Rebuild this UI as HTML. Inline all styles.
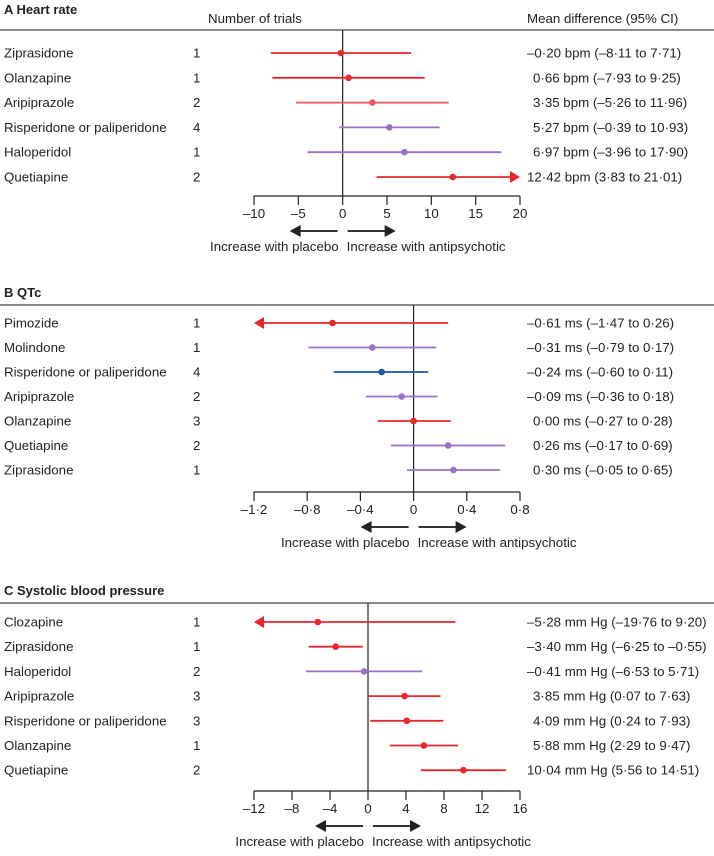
<!DOCTYPE html>
<html><head><meta charset="utf-8">
<style>
html,body{margin:0;padding:0;background:#fff;}
svg{display:block;font-family:"Liberation Sans",sans-serif;}
text{font-size:13.3px;fill:#222;}
.ttl{font-size:13px;font-weight:bold;}
</style></head>
<body>
<svg id="chart" width="714" height="856" viewBox="0 0 714 856" xmlns="http://www.w3.org/2000/svg"></svg>
<script>
// Panel A: Heart rate
const aNames = ["Ziprasidone","Olanzapine","Aripiprazole","Risperidone or paliperidone","Haloperidol","Quetiapine"];
const aTrials = [1,1,2,4,1,2];
const aMean = [-0.20,0.66,3.35,5.27,6.97,12.42];
const aLow = [-8.11,-7.93,-5.26,-0.39,-3.96,3.83];
const aHigh = [7.71,9.25,11.96,10.93,17.90,21.01];
const aColor = ["#e8282c","#e8282c","#f05a5a","#9b72c4","#9b72c4","#e8282c"];
const aLabels = ["–0·20 bpm (–8·11 to 7·71)","0·66 bpm (–7·93 to 9·25)","3·35 bpm (–5·26 to 11·96)","5·27 bpm (–0·39 to 10·93)","6·97 bpm (–3·96 to 17·90)","12·42 bpm (3·83 to 21·01)"];
const aTicks = [-10,-5,0,5,10,15,20];
const aTickLabels = ["–10","–5","0","5","10","15","20"];

// Panel B: QTc
const bNames = ["Pimozide","Molindone","Risperidone or paliperidone","Aripiprazole","Olanzapine","Quetiapine","Ziprasidone"];
const bTrials = [1,1,4,2,3,2,1];
const bMean = [-0.61,-0.31,-0.24,-0.09,0.00,0.26,0.30];
const bLow = [-1.47,-0.79,-0.60,-0.36,-0.27,-0.17,-0.05];
const bHigh = [0.26,0.17,0.11,0.18,0.28,0.69,0.65];
const bColor = ["#e8282c","#9b72c4","#1b56a3","#9b72c4","#e8282c","#9b72c4","#9b72c4"];
const bLabels = ["–0·61 ms (–1·47 to 0·26)","–0·31 ms (–0·79 to 0·17)","–0·24 ms (–0·60 to 0·11)","–0·09 ms (–0·36 to 0·18)","0·00 ms (–0·27 to 0·28)","0·26 ms (–0·17 to 0·69)","0·30 ms (–0·05 to 0·65)"];
const bTicks = [-1.2,-0.8,-0.4,0,0.4,0.8];
const bTickLabels = ["–1·2","–0·8","–0·4","0","0·4","0·8"];

// Panel C: Systolic blood pressure
const cNames = ["Clozapine","Ziprasidone","Haloperidol","Aripiprazole","Risperidone or paliperidone","Olanzapine","Quetiapine"];
const cTrials = [1,1,2,3,3,1,2];
const cMean = [-5.28,-3.40,-0.41,3.85,4.09,5.88,10.04];
const cLow = [-19.76,-6.25,-6.53,0.07,0.24,2.29,5.56];
const cHigh = [9.20,-0.55,5.71,7.63,7.93,9.47,14.51];
const cColor = ["#e8282c","#e8282c","#9b72c4","#e8282c","#e8282c","#e8282c","#e8282c"];
const cLabels = ["–5·28 mm Hg (–19·76 to 9·20)","–3·40 mm Hg (–6·25 to –0·55)","–0·41 mm Hg (–6·53 to 5·71)","3·85 mm Hg (0·07 to 7·63)","4·09 mm Hg (0·24 to 7·93)","5·88 mm Hg (2·29 to 9·47)","10·04 mm Hg (5·56 to 14·51)"];
const cTicks = [-12,-8,-4,0,4,8,12,16];
const cTickLabels = ["–12","–8","–4","0","4","8","12","16"];

const svg = document.getElementById('chart');
const NS = "http://www.w3.org/2000/svg";
function mk(tag, attrs, parent){
  const e = document.createElementNS(NS, tag);
  for (const k in attrs) e.setAttribute(k, attrs[k]);
  (parent||svg).appendChild(e);
  return e;
}
function txt(x,y,s,parent,extra){
  const t = mk('text', Object.assign({x:x,y:y}, extra||{}), parent);
  t.textContent = s;
  return t;
}

function panel(cfg){
  const g = mk('g', {});
  
  
  const xmin = cfg.ticks[0], xmax = cfg.ticks[cfg.ticks.length-1];
  const X0 = 254, X1 = 520;
  const sx = v => X0 + (v - xmin) / (xmax - xmin) * (X1 - X0);
  const t = txt(4, cfg.titleY, cfg.title, g, {class:'ttl'});
  
  
  if (cfg.headers){
    const h1 = txt(208, 23, "Number of trials", g, {'font-size':'13'});
    
    
    const h2 = txt(527, 23, "Mean difference (95% CI)", g, {'font-size':'13'});
    
    
  }
  const hl = mk('line', {x1:0,x2:714,y1:cfg.lineY,y2:cfg.lineY,stroke:'#444','stroke-width':1.3}, g);
  
  
  const zl = mk('line', {x1:sx(0),x2:sx(0),y1:cfg.lineY,y2:cfg.axisY,stroke:'#222','stroke-width':1.2}, g);
  
  
  cfg.names.forEach((n,i)=>{
    const y = cfg.rowY0 + i * cfg.rowStep;
    const r = mk('g', {}, g);
    
    
    txt(4, y+4.5, n, r);
    txt(193, y+4.5, String(cfg.trials[i]), r);
    const lab = cfg.labels[i];
    const lx = (lab[0] === '–' || /^\d\d/.test(lab)) ? 527 : 533;
    txt(lx, y+4.5, lab, r);
    const col = cfg.colors[i];
    let lo = cfg.low[i], hi = cfg.high[i];
    let arrowL = false, arrowR = false;
    if (lo < xmin){ lo = xmin; arrowL = true; }
    if (hi > xmax){ hi = xmax; arrowR = true; }
    const ci = mk('line', {x1:sx(lo)+(arrowL?8:0), x2:sx(hi)-(arrowR?8:0), y1:y, y2:y, stroke:col, 'stroke-width':1.8}, r);
    
    
    if (arrowL){
      const a = mk('polygon', {points:`${sx(lo)},${y} ${sx(lo)+10},${y-6} ${sx(lo)+10},${y+6}`, fill:col}, r);
      
      
    }
    if (arrowR){
      const a = mk('polygon', {points:`${sx(hi)},${y} ${sx(hi)-10},${y-6} ${sx(hi)-10},${y+6}`, fill:col}, r);
      
      
    }
    const p = mk('circle', {cx:sx(cfg.mean[i]), cy:y, r:3.3, fill:col}, r);
    
    
  });
  const ax = mk('g', {}, g);
  
  
  mk('line', {x1:X0,x2:X1,y1:cfg.axisY,y2:cfg.axisY,stroke:'#222','stroke-width':1.3}, ax);
  cfg.ticks.forEach((v,i)=>{
    mk('line', {x1:sx(v),x2:sx(v),y1:cfg.axisY,y2:cfg.axisY+9,stroke:'#222','stroke-width':1.2}, ax);
    txt(sx(v), cfg.axisY+22, cfg.tickLabels[i], ax, {'text-anchor':'middle'});
  });
  const z = sx(0), ay = cfg.axisY + 35;
  const ar = mk('g', {}, g);
  
  
  mk('line', {x1:z-44,x2:z-5,y1:ay,y2:ay,stroke:'#333','stroke-width':2}, ar);
  mk('polygon', {points:`${z-53},${ay} ${z-42},${ay-6} ${z-42},${ay+6}`, fill:'#222'}, ar);
  mk('line', {x1:z+5,x2:z+44,y1:ay,y2:ay,stroke:'#333','stroke-width':2}, ar);
  mk('polygon', {points:`${z+53},${ay} ${z+42},${ay-6} ${z+42},${ay+6}`, fill:'#222'}, ar);
  txt(z-4, ay+20, "Increase with placebo", ar, {'text-anchor':'end'});
  txt(z+4, ay+20, "Increase with antipsychotic", ar);
}

panel({id:'heart-rate', title:'A Heart rate', titleY:14, headers:true, lineY:30, rowY0:53, rowStep:24.8, axisY:196,
  names:aNames, trials:aTrials, mean:aMean, low:aLow, high:aHigh, colors:aColor, labels:aLabels, ticks:aTicks, tickLabels:aTickLabels});
panel({id:'qtc', title:'B QTc', titleY:297, headers:false, lineY:305, rowY0:323, rowStep:24.5, axisY:492,
  names:bNames, trials:bTrials, mean:bMean, low:bLow, high:bHigh, colors:bColor, labels:bLabels, ticks:bTicks, tickLabels:bTickLabels});
panel({id:'systolic-bp', title:'C Systolic blood pressure', titleY:595, headers:false, lineY:603, rowY0:622, rowStep:24.7, axisY:791,
  names:cNames, trials:cTrials, mean:cMean, low:cLow, high:cHigh, colors:cColor, labels:cLabels, ticks:cTicks, tickLabels:cTickLabels});
</script>
</body></html>
